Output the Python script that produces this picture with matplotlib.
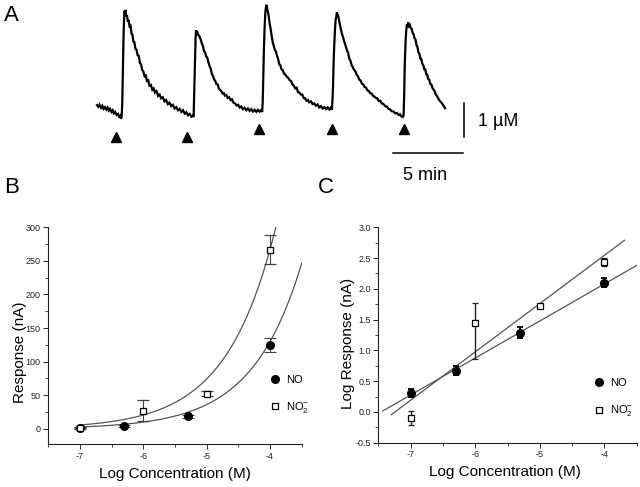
import numpy as np
import matplotlib
matplotlib.use("Agg")
import matplotlib.pyplot as plt
from matplotlib.ticker import MultipleLocator, FormatStrFormatter
from matplotlib.lines import Line2D

plt.rcParams['font.family'] = ['Liberation Sans', 'DejaVu Sans']
plt.rcParams['axes.unicode_minus'] = False
plt.rcParams['mathtext.fontset'] = 'custom'
plt.rcParams['mathtext.rm'] = 'Liberation Sans'
plt.rcParams['mathtext.it'] = 'Liberation Sans:italic'

# ---------------- Panel A: amperometric trace (time in min, concentration in uM)
trace_t = [0.00, 0.10, 0.18, 0.29, 0.38, 0.47, 0.57, 0.66, 0.75, 0.84, 0.93, 1.03, 1.12, 1.21, 1.30,
           1.40, 1.50, 1.58, 1.66, 1.71, 1.76,
           1.80, 1.84, 1.86, 1.90, 1.93, 1.96, 2.00, 2.04, 2.08, 2.14,
           2.20, 2.26, 2.33, 2.40, 2.47, 2.53, 2.60, 2.67, 2.74, 2.82, 2.90, 2.98, 3.07, 3.15, 3.23,
           3.31, 3.40, 3.48, 3.57, 3.66, 3.75, 3.85, 3.95, 4.05, 4.14, 4.25, 4.36, 4.47, 4.58, 4.70,
           4.82, 4.94, 5.06, 5.18, 5.30, 5.42, 5.54, 5.66, 5.78, 5.90, 6.02, 6.14, 6.26, 6.38, 6.50,
           6.62, 6.74, 6.84,
           6.90, 6.93, 6.97, 7.00, 7.04, 7.07, 7.11, 7.15,
           7.21, 7.28, 7.36, 7.43, 7.50, 7.57, 7.65, 7.72, 7.80, 7.88, 7.96, 8.04, 8.12, 8.20, 8.29,
           8.37, 8.45, 8.53, 8.62, 8.70, 8.79, 8.88, 8.97, 9.06, 9.14, 9.24, 9.34, 9.44, 9.54, 9.64,
           9.75, 9.86, 9.97, 10.08, 10.19, 10.30, 10.42, 10.54, 10.66, 10.78, 10.90, 11.02, 11.14,
           11.26, 11.38, 11.50, 11.62, 11.72, 11.80,
           11.84, 11.88, 11.92, 11.97, 12.02, 12.07, 12.11, 12.15, 12.20,
           12.26, 12.33, 12.40, 12.47, 12.55, 12.62, 12.70, 12.78, 12.86, 12.94, 13.02, 13.10, 13.18,
           13.26, 13.36, 13.46, 13.56, 13.66, 13.76, 13.86, 13.96, 14.06, 14.16, 14.26, 14.36, 14.46,
           14.56, 14.66, 14.76, 14.86, 14.96, 15.06, 15.16, 15.28, 15.40, 15.52, 15.64, 15.76, 15.88,
           16.00, 16.12, 16.24, 16.36, 16.48, 16.60, 16.70, 16.78,
           16.82, 16.86, 16.90, 16.94, 16.99, 17.04, 17.09, 17.14, 17.18, 17.22,
           17.29, 17.36, 17.43, 17.50, 17.57, 17.64, 17.71, 17.78, 17.86, 17.94, 18.02, 18.10, 18.19,
           18.28, 18.37, 18.46, 18.55, 18.64, 18.73, 18.82, 18.92, 19.02, 19.12, 19.22, 19.32, 19.42,
           19.52, 19.62, 19.72, 19.82, 19.92, 20.02, 20.12, 20.22, 20.34, 20.46, 20.58, 20.70, 20.82,
           20.94, 21.06, 21.18, 21.30, 21.42, 21.54, 21.64, 21.74, 21.84,
           21.90, 21.94, 21.97, 22.00, 22.05, 22.10, 22.14, 22.18, 22.22, 22.27,
           22.33, 22.40, 22.47, 22.54, 22.61, 22.68, 22.75, 22.82, 22.89, 22.96, 23.03, 23.10, 23.17,
           23.24, 23.31, 23.38, 23.45, 23.52, 23.59, 23.66, 23.73, 23.80, 23.88, 23.96, 24.04, 24.12,
           24.20, 24.28, 24.36, 24.44, 24.52, 24.60, 24.68, 24.76, 24.86]
trace_c = [0.35, 0.30, 0.36, 0.27, 0.33, 0.24, 0.29, 0.22, 0.28, 0.19, 0.24, 0.15, 0.20, 0.11, 0.15,
           0.06, 0.09, 0.01, 0.04, -0.05, 0.00,
           0.35, 1.20, 1.70, 2.45, 2.85, 3.12, 3.05, 3.15, 2.95, 3.00,
           2.80, 2.85, 2.66, 2.68, 2.45, 2.42, 2.22, 2.20, 2.01, 1.98, 1.82, 1.80, 1.58, 1.55, 1.38,
           1.34, 1.20, 1.22, 1.06, 1.08, 0.92, 0.94, 0.80, 0.84, 0.72, 0.76, 0.62, 0.66, 0.55, 0.58,
           0.46, 0.50, 0.38, 0.42, 0.32, 0.36, 0.25, 0.29, 0.20, 0.24, 0.15, 0.20, 0.10, 0.14, 0.05,
           0.09, 0.01, 0.04,
           0.00, 0.50, 1.20, 1.70, 2.30, 2.55, 2.48, 2.52,
           2.42, 2.40, 2.33, 2.25, 2.15, 2.08, 1.93, 1.90, 1.78, 1.74, 1.60, 1.50, 1.42, 1.28, 1.20,
           1.10, 1.06, 0.97, 0.96, 0.84, 0.80, 0.76, 0.69, 0.70, 0.63, 0.64, 0.56, 0.58, 0.50, 0.52,
           0.42, 0.40, 0.34, 0.36, 0.28, 0.31, 0.23, 0.27, 0.20, 0.25, 0.18, 0.23, 0.16,
           0.21, 0.15, 0.21, 0.16, 0.20, 0.15,
           0.50, 1.20, 1.95, 2.60, 3.05, 3.25, 3.30, 3.20, 3.10,
           2.98, 2.75, 2.60, 2.40, 2.20, 2.10, 1.98, 1.92, 1.80, 1.70, 1.55, 1.52, 1.40,
           1.38, 1.28, 1.24, 1.18, 1.15, 1.08, 1.06, 0.96, 0.92, 0.84, 0.86, 0.73, 0.72,
           0.66, 0.66, 0.56, 0.55, 0.48, 0.50, 0.43, 0.46, 0.38, 0.40, 0.33, 0.37, 0.28,
           0.32, 0.25, 0.29, 0.23, 0.28, 0.22, 0.27, 0.21,
           0.50, 0.90, 1.60, 2.05, 2.50, 2.85, 2.95, 3.08, 2.98, 3.00,
           2.84, 2.70, 2.56, 2.44, 2.36, 2.24, 2.16, 2.06, 1.96, 1.88, 1.72, 1.66, 1.52,
           1.46, 1.38, 1.34, 1.24, 1.20, 1.10, 1.08, 0.98, 0.96, 0.88, 0.86, 0.78, 0.76,
           0.70, 0.69, 0.62, 0.60, 0.56, 0.55, 0.47, 0.48, 0.40, 0.38, 0.32, 0.31, 0.24,
           0.22, 0.17, 0.16, 0.11, 0.12, 0.06, 0.08, 0.02, 0.00,
           0.05, 0.60, 1.30, 1.75, 2.30, 2.60, 2.72, 2.62, 2.78, 2.70,
           2.72, 2.62, 2.60, 2.48, 2.44, 2.32, 2.28, 2.12, 2.06, 1.90, 1.86, 1.72, 1.70,
           1.56, 1.52, 1.40, 1.40, 1.26, 1.24, 1.12, 1.10, 0.98, 0.96, 0.86, 0.80, 0.76,
           0.66, 0.62, 0.56, 0.50, 0.46, 0.42, 0.38, 0.33, 0.26]
stim_t = [1.34, 6.45, 11.59, 16.76, 21.93]
stim_c = [-0.60, -0.60, -0.36, -0.36, -0.36]
scale_t0, scale_t_len = 21.14, 5.0      # min
scale_c0, scale_c_len = -0.59, 1.0      # uM

# ---------------- Panel B: response (nA) vs log concentration
logc_no = [-7.0, -6.3, -5.3, -4.0]
resp_no = [2.0, 4.0, 18.8, 124.5]
resp_no_err = [1.0, 1.0, 2.0, 10.0]
logc_no2 = [-7.0, -6.0, -5.0, -4.0]
resp_no2 = [0.8, 27.3, 52.1, 266.9]
resp_no2_err = [1.5, 16.0, 3.5, 21.0]
# exponential fits: R = amp * 10**(k*(x+4))
fitB_amp_no, fitB_amp_no2 = 130.0, 267.0
fitB_k = 0.556

# ---------------- Panel C: log response vs log concentration
logr_no = [0.31, 0.67, 1.29, 2.10]
logr_no_err = [0.06, 0.07, 0.095, 0.07]
logr_no2 = [-0.10, 1.45, 1.72, 2.43]
logr_no2_err_lo = [0.11, 0.59, 0.03, 0.065]
logr_no2_err_hi = [0.11, 0.32, 0.03, 0.065]
# linear fits: y = a + b*(x+7)
fitC_no = (0.275, 0.6015, -7.43, -3.50)
fitC_no2 = (0.19, 0.785, -7.30, -3.69)

W, H = 640, 487
fig = plt.figure(figsize=(6.4, 4.87), dpi=100)

# ---- Panel A
axA = fig.add_axes([0, 0, 1, 1])
axA.set_xlim(-6.929, 38.786)
axA.set_ylim(-10.882, 3.441)
axA.axis('off')
axA.plot(trace_t, trace_c, color='black', lw=1.6, solid_joinstyle='miter')
axA.plot(stim_t, stim_c, linestyle='none', marker='^', color='black', markersize=7)
axA.plot([scale_t0 + scale_t_len + 0.07] * 2, [scale_c0, scale_c0 + scale_c_len], color='black', lw=1.1)
axA.plot([scale_t0, scale_t0 + scale_t_len], [-1.05, -1.05], color='black', lw=1.1)
axA.text(27.24, -0.256, '1 \u00b5M', fontsize=13, ha='left', va='baseline')
axA.text(23.46, -1.853, '5 min', fontsize=13, ha='center', va='baseline')

fig.text(4 / W, 1 - 21 / H, 'A', fontsize=16, va='baseline', ha='left')
fig.text(4 / W, 1 - 193 / H, 'B', fontsize=16, va='baseline', ha='left')
fig.text(318 / W, 1 - 193 / H, 'C', fontsize=16, va='baseline', ha='left')

def style_axes(ax):
    for s in ['top', 'right']:
        ax.spines[s].set_visible(False)
    for s in ['left', 'bottom']:
        ax.spines[s].set_linewidth(0.8)
        ax.spines[s].set_color('#222222')
    ax.tick_params(which='major', direction='out', length=3.5, width=0.7, labelsize=6.5,
                   colors='#222222', pad=2)
    ax.tick_params(which='minor', direction='out', length=2, width=0.6, colors='#222222')
    ax.set_xlim(-7.5, -3.5)
    ax.set_xticks([-7, -6, -5, -4])
    ax.xaxis.set_minor_locator(MultipleLocator(0.5))
    ax.set_xlabel('Log Concentration (M)', fontsize=11)
    ax.patch.set_alpha(0)

fit_color = '#555555'

# ---- Panel B
axB = fig.add_axes([48.3 / W, (H - 444.3) / H, 253.4 / W, 217 / H])
style_axes(axB)
axB.set_ylim(-23, 300)
axB.set_yticks(np.arange(0, 301, 50))
axB.yaxis.set_minor_locator(MultipleLocator(25))
xf = np.linspace(-7.0, -3.5, 300)
axB.plot(xf, fitB_amp_no * 10 ** (fitB_k * (xf + 4)), color=fit_color, lw=0.9)
axB.plot(xf, fitB_amp_no2 * 10 ** (fitB_k * (xf + 4)), color=fit_color, lw=0.9)
axB.errorbar(logc_no, resp_no, yerr=resp_no_err, fmt='o', color='black', ms=5.5,
             ecolor='#444444', elinewidth=0.8, capsize=4, capthick=0.8, zorder=3)
axB.errorbar(logc_no2, resp_no2, yerr=resp_no2_err, fmt='s', mfc='white', mec='black', mew=0.9,
             ms=5, ecolor='#444444', elinewidth=0.8, capsize=4, capthick=0.8, zorder=4)
axB.set_ylabel('Response (nA)', fontsize=11)
axB.yaxis.set_label_coords(-0.086, 0.425)
axB.xaxis.set_label_coords(0.5, -0.105)

handles = [Line2D([], [], linestyle='none', marker='o', color='black', ms=5.5),
           Line2D([], [], linestyle='none', marker='s', mfc='white', mec='black', mew=0.9, ms=5)]
labels = ['NO', r'NO$_2^{-}$']
axB.legend(handles, labels, loc='center left', bbox_to_anchor=(0.873, 0.228), frameon=False,
           fontsize=8, handlelength=1.0, handletextpad=0.5, labelspacing=1.4,
           borderpad=0, borderaxespad=0)

# ---- Panel C
axC = fig.add_axes([378.3 / W, (H - 442.7) / H, 258.4 / W, 215.4 / H])
style_axes(axC)
axC.set_ylim(-0.5, 3.0)
axC.set_yticks(np.arange(-0.5, 3.01, 0.5))
axC.yaxis.set_minor_locator(MultipleLocator(0.25))
axC.yaxis.set_major_formatter(FormatStrFormatter('%.1f'))
for a, b, x0, x1 in [fitC_no, fitC_no2]:
    xl = np.array([x0, x1])
    axC.plot(xl, a + b * (xl + 7), color=fit_color, lw=0.9)
axC.errorbar(logc_no, logr_no, yerr=logr_no_err, fmt='o', color='black', ms=5.5,
             ecolor='black', elinewidth=1.3, capsize=2.5, capthick=1.3, zorder=3)
axC.errorbar(logc_no2, logr_no2, yerr=[logr_no2_err_lo, logr_no2_err_hi], fmt='s', mfc='white',
             mec='black', mew=0.9, ms=5, ecolor='#222222', elinewidth=1.0, capsize=2.5,
             capthick=1.0, zorder=4)
axC.set_ylabel('Log Response (nA)', fontsize=11)
axC.yaxis.set_label_coords(-0.09, 0.461)
axC.xaxis.set_label_coords(0.49, -0.105)
axC.legend(handles, labels, loc='center left', bbox_to_anchor=(0.832, 0.207), frameon=False,
           fontsize=8, handlelength=1.0, handletextpad=0.5, labelspacing=1.4,
           borderpad=0, borderaxespad=0)

fig.savefig('out.png', dpi=100)
